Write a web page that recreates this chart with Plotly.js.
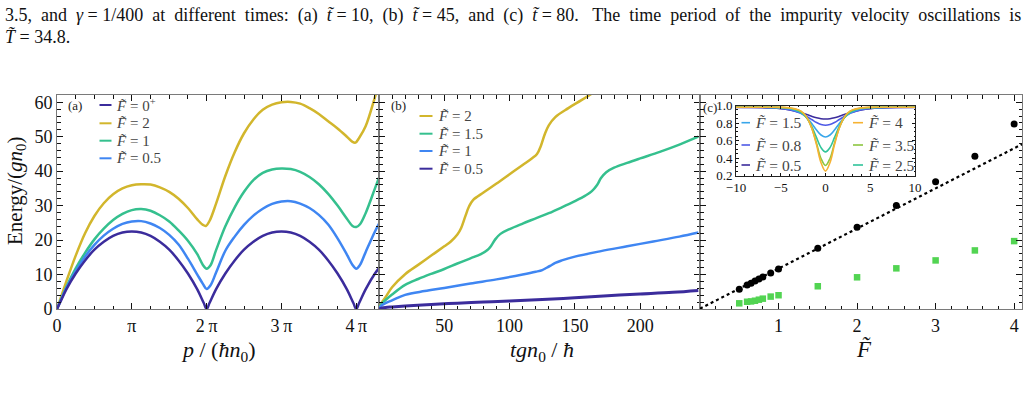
<!DOCTYPE html>
<html>
<head>
<meta charset="utf-8">
<script src="https://cdn.plot.ly/plotly-3.0.1.min.js"></script>
<style>
  html, body { margin: 0; padding: 0; background: #fff; }
  #chart { width: 1029px; height: 405px; }
</style>
</head>
<body>
<div id="chart"></div>
<script>
// ---------- Panel (a): energy vs momentum (p in units of pi*hbar*n0) ----------
const aP_F0 = [0, 0.04, 0.125, 0.25, 0.375, 0.5, 0.625, 0.75, 0.875, 1.0, 1.125, 1.25, 1.375, 1.5, 1.625, 1.75, 1.875, 1.96, 2.0, 2.04, 2.125, 2.25, 2.375, 2.5, 2.625, 2.75, 2.875, 3.0, 3.125, 3.25, 3.375, 3.5, 3.625, 3.75, 3.875, 3.96, 4.0, 4.04, 4.125, 4.25, 4.31];
const aE_F0 = [0, 1.8, 5.7, 10.3, 14.1, 17.2, 19.5, 21.2, 22.2, 22.5, 22.2, 21.2, 19.5, 17.2, 14.1, 10.3, 5.7, 1.8, 0, 1.8, 5.7, 10.3, 14.1, 17.2, 19.5, 21.2, 22.2, 22.5, 22.2, 21.2, 19.5, 17.2, 14.1, 10.3, 5.7, 1.8, 0, 1.8, 5.7, 10.3, 12.0];

const aP_F05 = [0, 0.125, 0.25, 0.375, 0.5, 0.625, 0.75, 0.875, 1.0, 1.125, 1.25, 1.375, 1.5, 1.625, 1.75, 1.875, 1.95, 2.0, 2.05, 2.125, 2.25, 2.375, 2.5, 2.625, 2.75, 2.875, 3.0, 3.125, 3.25, 3.375, 3.5, 3.625, 3.75, 3.875, 3.95, 4.0, 4.05, 4.125, 4.25, 4.31];
const aE_F05 = [0, 6.1, 11.0, 15.2, 18.6, 21.3, 23.3, 24.7, 25.4, 25.5, 24.8, 23.5, 21.5, 18.7, 14.6, 10.0, 7.3, 5.8, 6.8, 10.5, 16.9, 21.0, 24.4, 27.1, 29.1, 30.5, 31.2, 31.3, 30.6, 29.3, 27.3, 24.5, 20.5, 15.8, 12.8, 11.7, 12.8, 16.5, 22.5, 25.0];

const aP_F1 = [0, 0.125, 0.25, 0.375, 0.5, 0.625, 0.75, 0.875, 1.0, 1.125, 1.25, 1.375, 1.5, 1.625, 1.75, 1.875, 1.95, 2.0, 2.05, 2.125, 2.25, 2.375, 2.5, 2.625, 2.75, 2.875, 3.0, 3.125, 3.25, 3.375, 3.5, 3.625, 3.75, 3.875, 3.95, 4.0, 4.05, 4.125, 4.25, 4.31];
const aE_F1 = [0, 6.4, 11.8, 16.3, 20.2, 23.3, 25.8, 27.6, 28.7, 29.0, 28.5, 27.2, 25.4, 22.8, 19.8, 15.9, 12.8, 11.7, 12.6, 17.0, 24.0, 29.5, 34.0, 37.4, 39.5, 40.5, 40.8, 40.6, 39.8, 38.3, 36.2, 33.4, 30.0, 26.2, 24.1, 23.8, 24.6, 27.8, 35.0, 38.5];

const aP_F2 = [0, 0.125, 0.25, 0.375, 0.5, 0.625, 0.75, 0.875, 1.0, 1.125, 1.25, 1.375, 1.5, 1.625, 1.75, 1.875, 1.95, 1.99, 2.04, 2.125, 2.25, 2.375, 2.5, 2.625, 2.75, 2.875, 3.0, 3.125, 3.25, 3.375, 3.5, 3.625, 3.75, 3.875, 3.95, 3.99, 4.04, 4.125, 4.25, 4.31];
const aE_F2 = [0, 8.0, 15.5, 22.0, 27.0, 30.7, 33.3, 35.0, 35.9, 36.2, 36.1, 35.3, 34.0, 32.0, 29.3, 26.0, 24.4, 24.1, 25.6, 30.5, 38.6, 45.5, 51.0, 55.0, 57.8, 59.3, 60.0, 60.1, 59.6, 58.3, 56.6, 54.5, 52.4, 50.0, 48.5, 48.3, 49.7, 53.0, 61.5, 66.0];

// ---------- Panel (b): energy vs time ----------
const bT_F2 = [0, 2, 5, 10, 20, 30, 40, 50, 55, 60, 63, 66, 69, 72, 80, 90, 100, 110, 117, 121, 124, 127, 130, 135, 145, 155, 165];
const bE_F2 = [0, 1.8, 3.4, 6.3, 10.1, 12.8, 15.5, 18.2, 19.6, 21.6, 23.6, 26.8, 29.8, 31.6, 33.8, 36.4, 39.1, 41.8, 43.7, 45.0, 47.4, 50.8, 53.3, 55.7, 58.3, 60.6, 63.0];

const bT_F15 = [0, 2, 5, 10, 20, 30, 40, 50, 60, 70, 78, 83, 86, 89, 93, 100, 110, 120, 130, 140, 150, 158, 163, 167, 170, 174, 180, 190, 200, 215, 230, 244.5];
const bE_F15 = [0, 1.5, 2.6, 4.2, 7.0, 8.7, 10.2, 11.6, 13.2, 14.7, 15.9, 17.1, 18.4, 20.2, 21.8, 23.2, 24.8, 26.3, 27.8, 29.5, 31.3, 32.9, 34.2, 36.0, 38.0, 39.7, 41.0, 42.4, 43.7, 45.6, 47.7, 50.0];

const bT_F1 = [0, 2, 5, 10, 20, 35, 50, 70, 90, 110, 120, 125, 128, 131, 135, 140, 150, 170, 190, 210, 230, 244.5];
const bE_F1 = [0, 1.0, 1.7, 2.5, 4.1, 5.2, 6.1, 7.4, 8.6, 10.0, 10.8, 11.3, 11.9, 12.5, 13.4, 14.1, 15.2, 16.8, 18.2, 19.6, 21.0, 22.2];

const bT_F05 = [0, 2, 5, 10, 20, 40, 60, 80, 100, 125, 150, 175, 200, 225, 244.5];
const bE_F05 = [0, 0.25, 0.45, 0.6, 0.85, 1.3, 1.7, 2.0, 2.3, 2.75, 3.25, 3.85, 4.35, 4.85, 5.4];

// ---------- Panel (c): energy vs impurity strength ----------
const cF = [0.5, 0.6, 0.65, 0.7, 0.75, 0.8, 0.9, 1.0, 1.5, 2.0, 2.5, 3.0, 3.5, 4.0];
const cEnergyTotal = [5.7, 7.0, 7.45, 8.1, 8.7, 9.3, 10.45, 11.6, 17.6, 23.7, 30.0, 36.9, 44.3, 53.7];
const cEnergySecond = [1.65, 2.1, 2.2, 2.4, 2.7, 3.0, 3.6, 4.0, 6.6, 9.2, 11.8, 14.1, 17.0, 19.7];
const cFitF = [0, 4.1];
const cFitE = [0.1, 47.8];

// ---------- Inset: density profiles ----------
const insetX = [-10, -8, -6, -5, -4, -3, -2.5, -2, -1.5, -1, -0.5, 0, 0.5, 1, 1.5, 2, 2.5, 3, 4, 5, 6, 8, 10];
const insetN_F05 = [0.979, 0.978, 0.971, 0.963, 0.949, 0.925, 0.910, 0.893, 0.875, 0.860, 0.849, 0.845, 0.849, 0.860, 0.875, 0.893, 0.910, 0.925, 0.949, 0.963, 0.971, 0.978, 0.979];
const insetN_F08 = [0.98, 0.979, 0.974, 0.967, 0.952, 0.921, 0.898, 0.869, 0.837, 0.806, 0.784, 0.775, 0.784, 0.806, 0.837, 0.869, 0.898, 0.921, 0.952, 0.967, 0.974, 0.979, 0.98];
const insetN_F15 = [0.98, 0.98, 0.978, 0.973, 0.961, 0.928, 0.896, 0.850, 0.789, 0.72, 0.663, 0.64, 0.663, 0.72, 0.789, 0.850, 0.896, 0.928, 0.961, 0.973, 0.978, 0.98, 0.98];
const insetN_F25 = [0.98, 0.98, 0.979, 0.977, 0.968, 0.938, 0.904, 0.844, 0.753, 0.633, 0.519, 0.47, 0.519, 0.633, 0.753, 0.844, 0.904, 0.938, 0.968, 0.977, 0.979, 0.98, 0.98];
const insetN_F35 = [0.98, 0.98, 0.98, 0.978, 0.972, 0.945, 0.911, 0.846, 0.733, 0.568, 0.394, 0.315, 0.394, 0.568, 0.733, 0.846, 0.911, 0.945, 0.972, 0.978, 0.98, 0.98, 0.98];
const insetN_F4 = [0.98, 0.98, 0.98, 0.979, 0.973, 0.950, 0.917, 0.851, 0.732, 0.550, 0.346, 0.25, 0.346, 0.550, 0.732, 0.851, 0.917, 0.950, 0.973, 0.979, 0.98, 0.98, 0.98];

// Tick labels
const aTickVals = [0, 1, 2, 3, 4];
const aTickText = ['0', '\u03c0', '2\u2009\u03c0', '3\u2009\u03c0', '4\u2009\u03c0'];
const bTickVals = [50, 100, 150, 200];
const cTickVals = [1, 2, 3, 4];

// Legend labels
const aLegend = ['0<sup>+</sup>', '2', '1', '0.5'];
const bLegend = ['2', '1.5', '1', '0.5'];
const insetLegendLeft = ['1.5', '0.8', '0.5'];
const insetLegendRight = ['4', '3.5', '2.5'];

// Colours
const PURPLE = '#3b2c9c', BLUE = '#3f86f2', GREEN = '#35c08e', YELLOW = '#d2b62c';
const IN_05 = '#3b2c9c', IN_08 = '#4f5ae6', IN_15 = '#38a6ea', IN_25 = '#30c49a', IN_35 = '#8cc640', IN_4 = '#f6b232';

// ---------- geometry helpers (page pixels -> paper coordinates) ----------
const ML = 57, MR = 7, MT = 95, MB = 96;
const PW = 1029 - ML - MR, PH = 405 - MT - MB;
const xp = px => (px - ML) / PW;
const yp = py => (405 - MB - py) / PH;

const SERIF = 'Liberation Serif, Times New Roman, serif';
const Ft = '<i>F\u0303</i>';

function line(x, y, color, xa, ya, width) {
  return { x: x, y: y, type: 'scatter', mode: 'lines', xaxis: xa, yaxis: ya,
           line: { color: color, width: width || 2.5, shape: 'spline', smoothing: 1 },
           showlegend: false, hoverinfo: 'skip' };
}

const traces = [
  line(aP_F2, aE_F2, YELLOW, 'x', 'y'),
  line(aP_F1, aE_F1, GREEN, 'x', 'y'),
  line(aP_F05, aE_F05, BLUE, 'x', 'y'),
  line(aP_F0, aE_F0, PURPLE, 'x', 'y'),

  line(bT_F2, bE_F2, YELLOW, 'x2', 'y2'),
  line(bT_F15, bE_F15, GREEN, 'x2', 'y2'),
  line(bT_F1, bE_F1, BLUE, 'x2', 'y2'),
  line(bT_F05, bE_F05, PURPLE, 'x2', 'y2', 3),

  { x: cFitF, y: cFitE, type: 'scatter', mode: 'lines', xaxis: 'x3', yaxis: 'y3',
    line: { color: '#000', width: 2.2, dash: 'dot' }, showlegend: false, hoverinfo: 'skip' },
  { x: cF, y: cEnergySecond, type: 'scatter', mode: 'markers', xaxis: 'x3', yaxis: 'y3',
    marker: { symbol: 'square', size: 6.5, color: '#52d452' }, showlegend: false, hoverinfo: 'skip' },
  { x: cF, y: cEnergyTotal, type: 'scatter', mode: 'markers', xaxis: 'x3', yaxis: 'y3',
    marker: { symbol: 'circle', size: 7, color: '#000' }, showlegend: false, hoverinfo: 'skip' },

  line(insetX, insetN_F05, IN_05, 'x4', 'y4', 1.6),
  line(insetX, insetN_F08, IN_08, 'x4', 'y4', 1.6),
  line(insetX, insetN_F15, IN_15, 'x4', 'y4', 1.6),
  line(insetX, insetN_F25, IN_25, 'x4', 'y4', 1.6),
  line(insetX, insetN_F35, IN_35, 'x4', 'y4', 1.6),
  line(insetX, insetN_F4, IN_4, 'x4', 'y4', 1.6)
];

// ---------- axes ----------
function minorTicks(dtick, len) {
  return { ticks: 'inside', ticklen: len || 3.5, tickwidth: 1, tickcolor: '#111', dtick: dtick, tick0: 0, showgrid: false };
}
function frameAxis(extra) {
  return Object.assign({
    showline: true, linecolor: '#7a7a7a', linewidth: 1, mirror: 'allticks',
    ticks: 'inside', ticklen: 6, tickwidth: 1, tickcolor: '#111',
    showgrid: false, zeroline: false, fixedrange: true,
    tickfont: { family: SERIF, size: 18, color: '#111' }
  }, extra);
}

const dA = [0, xp(379)], dB = [xp(379), xp(700)], dC = [xp(700), 1];
const yRange = [0, 62.1];

const layout = {
  width: 1029, height: 405,
  margin: { l: ML, r: MR, t: MT, b: MB, pad: 0 },
  paper_bgcolor: '#fff', plot_bgcolor: 'rgba(0,0,0,0)',
  showlegend: false, hovermode: false,
  font: { family: SERIF, color: '#111' },

  xaxis: frameAxis({ domain: dA, range: [0, 4.304], anchor: 'y', tickmode: 'array',
                     tickvals: aTickVals, ticktext: aTickText, minor: minorTicks(0.25) }),
  yaxis: frameAxis({ domain: [0, 1], range: yRange, anchor: 'x', dtick: 10, tick0: 0, minor: minorTicks(2) }),

  xaxis2: frameAxis({ domain: dB, range: [0, 245.8], anchor: 'y2', tickmode: 'array', tickvals: bTickVals,
                      minor: minorTicks(10) }),
  yaxis2: frameAxis({ domain: [0, 1], range: yRange, anchor: 'x2', dtick: 10, tick0: 0, showticklabels: false,
                      minor: minorTicks(2) }),

  xaxis3: frameAxis({ domain: dC, range: [0, 4.1], anchor: 'y3', tickmode: 'array', tickvals: cTickVals,
                      minor: minorTicks(0.2) }),
  yaxis3: frameAxis({ domain: [0, 1], range: yRange, anchor: 'x3', dtick: 10, tick0: 0, showticklabels: false,
                      minor: minorTicks(2) }),

  xaxis4: frameAxis({ domain: [xp(736), xp(915)], range: [-10, 10], anchor: 'y4', dtick: 5, tick0: 0,
                      linecolor: '#222', ticklen: 3, tickfont: { family: SERIF, size: 13, color: '#111' },
                      minor: minorTicks(1, 1.5) }),
  yaxis4: frameAxis({ domain: [yp(175.5), yp(105.5)], range: [0.2, 1.0], anchor: 'x4', dtick: 0.2, tick0: 0.2,
                      tickformat: '.1f', linecolor: '#222', ticklen: 3, tickfont: { family: SERIF, size: 13, color: '#111' },
                      minor: minorTicks(0.05, 1.5) }),

  shapes: [
    // white backing for the inset
    { type: 'rect', xref: 'paper', yref: 'paper', x0: xp(736), x1: xp(915), y0: yp(175.5), y1: yp(105.5),
      fillcolor: '#fff', line: { width: 0 }, layer: 'below' }
  ],
  annotations: []
};

// caption text above the figure (justified with en spaces between words)
const ES = '\u2002';
const captionLine1 = ['3.5,', 'and', '<i>\u03b3</i> = 1/400', 'at', 'different', 'times:', '(a)', '<i>t\u0303</i> = 10,', '(b)',
  '<i>t\u0303</i> = 45,', 'and', '(c)', '<i>t\u0303</i> = 80. ', 'The', 'time', 'period', 'of', 'the', 'impurity',
  'velocity', 'oscillations', 'is'].join(ES);
layout.annotations.push(
  { xref: 'paper', yref: 'paper', x: xp(3), y: yp(15.5), xanchor: 'left', yanchor: 'middle', showarrow: false,
    font: { family: SERIF, size: 18, color: '#111' }, text: captionLine1 },
  { xref: 'paper', yref: 'paper', x: xp(3), y: yp(37), xanchor: 'left', yanchor: 'middle', showarrow: false,
    font: { family: SERIF, size: 18, color: '#111' }, text: '<i>T\u0303</i> = 34.8.' }
);

// axis titles
layout.annotations.push(
  { xref: 'paper', yref: 'paper', x: xp(16), y: yp(191), textangle: -90, showarrow: false,
    xanchor: 'center', yanchor: 'middle', font: { family: SERIF, size: 21, color: '#111' },
    text: 'Energy/(<i>gn</i><sub>0</sub>)' },
  { xref: 'paper', yref: 'paper', x: xp(218), y: yp(351), showarrow: false, xanchor: 'center', yanchor: 'middle',
    font: { family: SERIF, size: 22, color: '#111' }, text: '<i>p</i> / (<i>\u0127n</i><sub>0</sub>)' },
  { xref: 'paper', yref: 'paper', x: xp(542), y: yp(351), showarrow: false, xanchor: 'center', yanchor: 'middle',
    font: { family: SERIF, size: 22, color: '#111' }, text: '<i>tgn</i><sub>0</sub> / <i>\u0127</i>' },
  { xref: 'paper', yref: 'paper', x: xp(864), y: yp(349), showarrow: false, xanchor: 'center', yanchor: 'middle',
    font: { family: SERIF, size: 23, color: '#111' }, text: Ft }
);

// panel letters
[['(a)', 75, 105], ['(b)', 398, 106], ['(c)', 710, 107.5]].forEach(([t, px, py]) => {
  layout.annotations.push({ xref: 'paper', yref: 'paper', x: xp(px), y: yp(py), showarrow: false,
    xanchor: 'center', yanchor: 'middle', font: { family: SERIF, size: 13, color: '#222' }, text: t });
});

// hand-placed legend blocks
function legendBlock(labels, colors, x0, x1, rows, textX, size, width) {
  labels.forEach((lab, i) => {
    layout.shapes.push({ type: 'line', xref: 'paper', yref: 'paper', x0: xp(x0), x1: xp(x1),
      y0: yp(rows[i]), y1: yp(rows[i]), line: { color: colors[i], width: width } });
    layout.annotations.push({ xref: 'paper', yref: 'paper', x: xp(textX), y: yp(rows[i]), showarrow: false,
      xanchor: 'left', yanchor: 'middle', font: { family: SERIF, size: size, color: '#444' },
      text: Ft + ' = ' + lab });
  });
}
legendBlock(aLegend, [PURPLE, YELLOW, GREEN, BLUE], 99.5, 111.5, [105, 123.3, 140.7, 158.3], 114, 15, 2);
legendBlock(bLegend, [YELLOW, GREEN, BLUE, PURPLE], 419.5, 432.5, [116, 133.7, 151, 168.7], 436, 15, 2);
legendBlock(insetLegendLeft, [IN_15, IN_08, IN_05], 741.5, 750, [122.7, 145, 165], 752.5, 15.5, 1.6);
legendBlock(insetLegendRight, [IN_4, IN_35, IN_25], 853, 863, [122.7, 145, 165], 866, 15.5, 1.6);

Plotly.newPlot('chart', traces, layout, { staticPlot: true, displayModeBar: false });
</script>
</body>
</html>
